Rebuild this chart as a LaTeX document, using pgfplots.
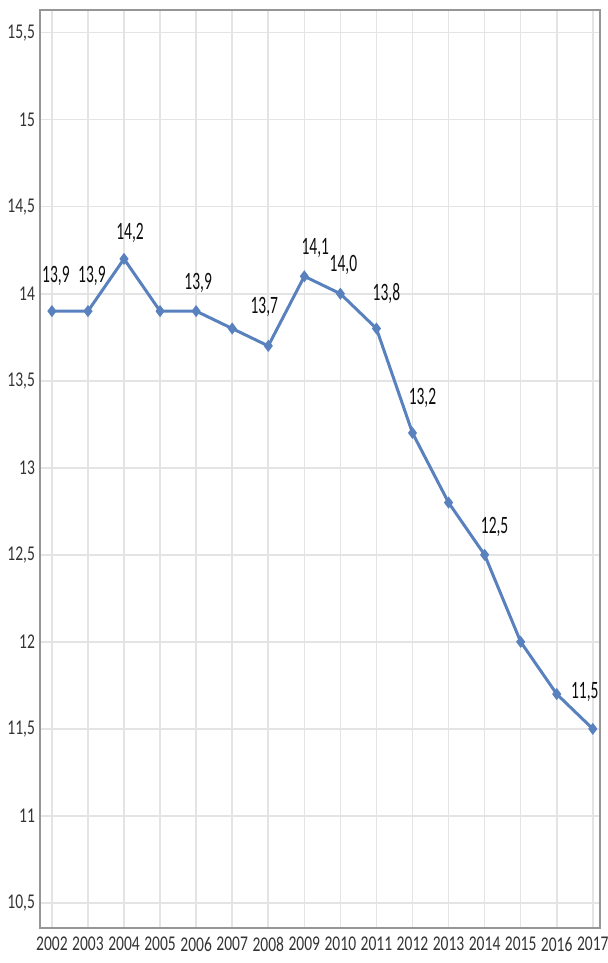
\documentclass[border=0pt]{standalone}
\usepackage{pgfplots}
\pgfplotsset{compat=1.18}
\usepackage{fontspec}
\setmainfont{Carlito}
\newfontfamily\tickfont{Carlito}[FakeStretch=0.74]
\newfontfamily\labfont{Carlito}[FakeStretch=0.62]
\definecolor{serie}{RGB}{88,129,190}
\definecolor{gridc}{RGB}{228,228,228}
\definecolor{framec}{RGB}{150,150,150}
\begin{document}
\begin{tikzpicture}
\begin{axis}[
  at={(20pt,17.5pt)}, anchor=south west,
  scale only axis, width=280pt, height=459pt,
  xmin=2001.67, xmax=2017.2,
  ymin=10.356, ymax=15.63,
  xtick={2002,2003,...,2017},
  ytick={10.5,11,...,15.5},
  xticklabel style={font=\tickfont\fontsize{10.5}{12}\selectfont, text=black!80},
  yticklabel style={font=\tickfont\fontsize{10.5}{12}\selectfont, text=black!80},
  /pgf/number format/assume math mode=true,
  /pgf/number format/use comma,
  /pgf/number format/1000 sep={},
  xticklabel={\pgfmathprintnumber[fixed,precision=0,1000 sep={}]{\tick}},
  yticklabel={\pgfmathprintnumber[fixed,precision=1,use comma]{\tick}},
  grid=major,
  major grid style={gridc, line width=0.8pt},
  axis line style={framec, line width=1.3pt},
  tick style={draw=none},
  xticklabel shift=1pt,
  yticklabel shift=-1pt,
  clip=false,
]
\addplot[serie, line width=1.5pt, mark=diamond*, mark size=1.8pt, mark options={fill=serie}] coordinates {
(2002,13.9) (2003,13.9) (2004,14.2) (2005,13.9) (2006,13.9) (2007,13.8)
(2008,13.7) (2009,14.1) (2010,14.0) (2011,13.8) (2012,13.2) (2013,12.8)
(2014,12.5) (2015,12.0) (2016,11.7) (2017,11.5)
};
\addplot[draw=none, mark=none,
  visualization depends on={\thisrow{dx} \as \dx},
  visualization depends on={\thisrow{dy} \as \dy},
  nodes near coords,
  point meta=explicit symbolic,
  every node near coord/.append style={anchor=center, xshift=\dx*0.5pt, yshift=\dy*0.5pt, font=\labfont\fontsize{12.5}{14}\selectfont, text=black!95, inner sep=0pt},
] table[meta=lab] {
x y dx dy lab
2002 13.9 4 35 13,9
2003 13.9 4 35 13,9
2004 14.2 6 26 14,2
2006 13.9 2 28 13,9
2008 13.7 -4 39 13,7
2009 14.1 11 28 14,1
2010 14.0 3 29 14,0
2011 13.8 10 35 13,8
2012 13.2 10 35 13,2
2014 12.5 10 28 12,5
2017 11.5 -8 37 11,5
};
\end{axis}
\pgfresetboundingbox
\path[use as bounding box] (0,0) rectangle (304pt,481.5pt);
\end{tikzpicture}
\end{document}
